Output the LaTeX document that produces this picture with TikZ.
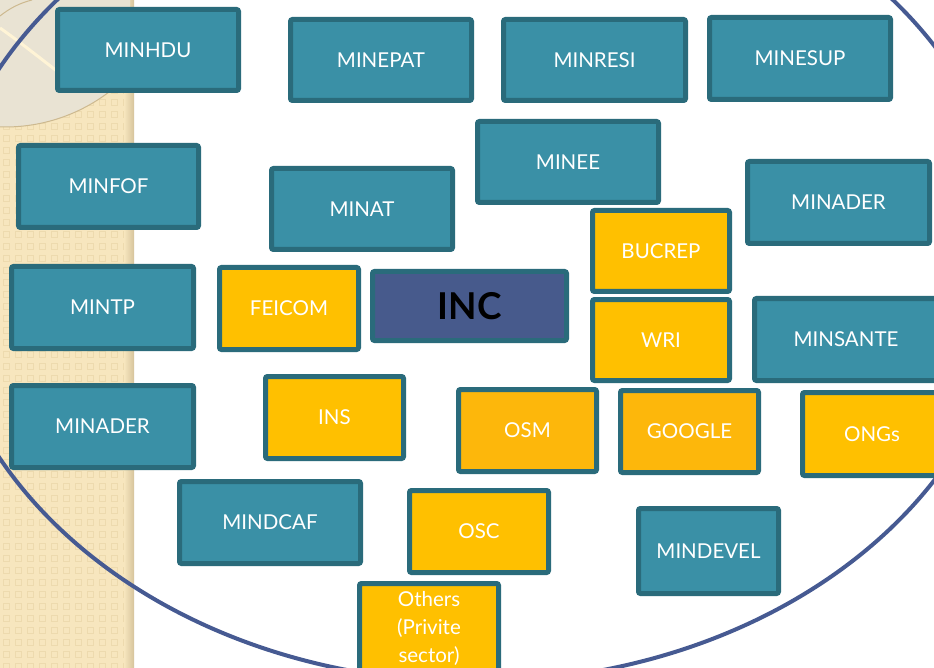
\documentclass[tikz,border=0pt]{standalone}
\usepackage{fontspec}
\setmainfont{Lato}
\definecolor{tealc}{HTML}{3A90A6}
\definecolor{bordc}{HTML}{2A6B7B}
\definecolor{yelc}{HTML}{FFC000}
\definecolor{orgc}{HTML}{FDB70B}
\definecolor{incc}{HTML}{475A8C}
\definecolor{ringc}{HTML}{465A92}
\definecolor{stripbg}{HTML}{F7E6BE}
\definecolor{stripsq}{HTML}{EDDAAE}
\definecolor{stripsh}{HTML}{D6C49C}
\definecolor{diskc}{HTML}{E9E3D3}
\definecolor{diskedge}{HTML}{CDB98F}
\definecolor{creamc}{HTML}{FFF4D6}
\newcommand\mybox[7]{\node[#6, minimum width={#4-#2-5}, minimum height={#5-#3-5}] (#1) at ({(#2+#4)/2},{(#3+#5)/2}) {#7};}
\begin{document}
\begin{tikzpicture}[x=1pt,y=-1pt,
  box/.style={draw=bordc, line width=5pt, rounded corners=2pt, inner sep=0pt, text=white, font=\fontsize{20.5}{28}\selectfont, align=center},
  tealbox/.style={box, fill=tealc},
  yelbox/.style={box, fill=yelc},
  orgbox/.style={box, fill=orgc},
  incbox/.style={box, fill=incc, text=black, font=\fontsize{37}{40}\selectfont\bfseries}]
\useasboundingbox (0,0) rectangle (934,668);
\clip (0,0) rectangle (934,668);
\fill[white] (0,0) rectangle (934,668);
% left decorative strip
\fill[stripbg] (0,0) rectangle (134,668);
\foreach \i in {0,...,10} {\foreach \j in {0,...,55} {\draw[stripsq, line width=0.9pt] (\i*12+3,\j*12+3) rectangle ++(6,6);}}
\shade[left color=stripbg, right color=stripsh] (124,0) rectangle (134,668);
\begin{scope}
  \clip (0,0) rectangle (130,668);
  \fill[diskc, draw=diskedge, line width=1pt] (5,-45) circle (172pt);
  \draw[creamc, line width=3pt] (0,28) .. controls (20,42) and (45,62) .. (75,85);
  \draw[diskedge, line width=1pt] (0,16) .. controls (10,8) and (20,3) .. (32,0);
\end{scope}
% big ellipse
\draw[ringc, line width=4pt] (475,263) ellipse [x radius=537pt, y radius=419pt];
% boxes
\mybox{minhdu}{55}{7}{241}{93}{tealbox}{MINHDU}
\mybox{minepat}{288}{17}{474}{103}{tealbox}{MINEPAT}
\mybox{minresi}{501}{17}{688}{103}{tealbox}{MINRESI}
\mybox{minesup}{707}{15}{893}{102}{tealbox}{MINESUP}
\mybox{minee}{475}{119}{661}{205}{tealbox}{MINEE}
\mybox{minfof}{16}{143}{201}{230}{tealbox}{MINFOF}
\mybox{minat}{269}{166}{455}{252}{tealbox}{MINAT}
\mybox{minaderr}{745}{159}{932}{246}{tealbox}{MINADER}
\mybox{bucrep}{590}{208}{732}{294}{yelbox}{BUCREP}
\mybox{mintp}{9}{264}{196}{351}{tealbox}{MINTP}
\mybox{feicom}{217}{265}{361}{352}{yelbox}{FEICOM}
\mybox{inc}{370}{269}{569}{343}{incbox}{INC}
\mybox{wri}{590}{297}{732}{383}{yelbox}{WRI}
\mybox{minsante}{752}{296}{940}{383}{tealbox}{MINSANTE}
\mybox{minaderl}{9}{383}{196}{470}{tealbox}{MINADER}
\mybox{ins}{263}{374}{406}{461}{yelbox}{INS}
\mybox{osm}{456}{387}{599}{474}{orgbox}{OSM}
\mybox{google}{618}{388}{761}{475}{orgbox}{GOOGLE}
\mybox{ongs}{800}{390}{944}{478}{yelbox}{ONGs}
\mybox{mindcaf}{177}{479}{363}{566}{tealbox}{MINDCAF}
\mybox{osc}{407}{488}{551}{575}{yelbox}{OSC}
\mybox{mindevel}{636}{506}{781}{596}{tealbox}{MINDEVEL}
\mybox{others}{357}{581}{501}{676}{yelbox}{Others\\(Privite\\sector)}
\end{tikzpicture}
\end{document}
